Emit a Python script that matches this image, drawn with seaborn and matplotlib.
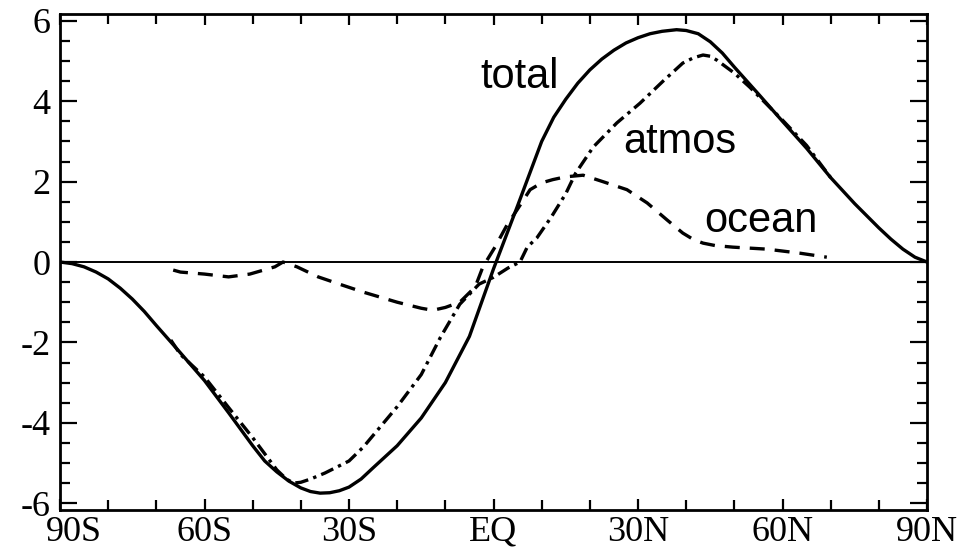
import matplotlib
matplotlib.use("Agg")
import matplotlib.pyplot as plt
import matplotlib.transforms as mtransforms
import seaborn as sns
import pandas as pd
from matplotlib.ticker import MultipleLocator, FixedLocator

# ---- data (latitude in degrees, transport in PW) ----
total_lat = [-90, -87.5, -85, -82.5, -80, -77.5, -75, -72.5, -70, -65, -60, -55, -50,
             -47.5, -45, -42.5, -40, -38, -36, -34, -32, -30, -27.5, -25, -20, -15,
             -10, -5, 0, 5, 10, 12.5, 15, 17.5, 20, 22.5, 25, 27.5, 30, 32.5, 35,
             38, 40, 42.5, 45, 47.5, 50, 55, 60, 65, 70, 75, 80, 82.5, 85, 87.5, 90]
total_val = [0.0, -0.04, -0.12, -0.25, -0.42, -0.65, -0.92, -1.23, -1.58, -2.26,
             -2.95, -3.75, -4.57, -4.95, -5.22, -5.45, -5.62, -5.71, -5.75, -5.74,
             -5.69, -5.6, -5.4, -5.12, -4.57, -3.88, -3.0, -1.85, -0.17, 1.4, 3.0,
             3.6, 4.05, 4.45, 4.78, 5.05, 5.27, 5.45, 5.58, 5.68, 5.74, 5.78, 5.76,
             5.68, 5.48, 5.2, 4.85, 4.18, 3.5, 2.83, 2.1, 1.45, 0.85, 0.57, 0.32,
             0.12, 0.0]

atmos_lat = [-67, -65, -60, -55, -50, -45, -43, -41.5, -40, -38, -35, -30, -27, -20,
             -15, -11, -7, -3, 0, 3, 5.5, 7, 9, 12, 15, 17, 20.7, 25.6, 30.4, 35.2,
             39.3, 41.5, 43.5, 45, 46.4, 50, 53.2, 60, 65, 70]
atmos_val = [-1.94, -2.3, -2.86, -3.62, -4.37, -5.17, -5.4, -5.5, -5.48, -5.4, -5.25,
             -4.95, -4.6, -3.6, -2.8, -1.87, -1.05, -0.55, -0.38, -0.15, 0.0, 0.37,
             0.6, 1.12, 1.7, 2.2, 2.86, 3.46, 3.95, 4.5, 4.95, 5.08, 5.15, 5.12,
             5.02, 4.7, 4.35, 3.53, 2.9, 2.1]

ocean_lat = [-66.5, -65, -60, -55, -50.6, -45.4, -43.7, -40.8, -36.4, -31.5, -27,
             -20, -15, -12.6, -10, -7, -3.8, -2.2, 0.3, 2.8, 4.9, 7.6, 10, 12.3, 15,
             18.6, 22.7, 27.7, 31.9, 36, 39.3, 41.5, 43.5, 46, 49.7, 56.8, 63.6, 69.2]
ocean_val = [-0.2, -0.25, -0.3, -0.37, -0.3, -0.12, 0.0, -0.12, -0.37, -0.57, -0.75,
             -1.0, -1.15, -1.2, -1.13, -1.0, -0.62, -0.12, 0.37, 0.92, 1.3, 1.8,
             1.97, 2.05, 2.12, 2.16, 2.0, 1.8, 1.47, 1.05, 0.72, 0.56, 0.47, 0.41,
             0.37, 0.32, 0.22, 0.12]

x_ticks = [-90, -60, -30, 0, 30, 60, 90]
x_ticklabels = ["90S", "60S", "30S", "EQ", "30N", "60N", "90N"]
y_ticks = [-6, -4, -2, 0, 2, 4, 6]
y_ticklabels = ["-6", "-4", "-2", "0", "2", "4", "6"]

series_labels = ["total", "atmos", "ocean"]

# ---- style ----
sns.set_style("ticks")
plt.rcParams["font.family"] = ["Liberation Serif", "DejaVu Serif"]
plt.rcParams["axes.unicode_minus"] = False
plt.rcParams["text.color"] = "black"

fig = plt.figure(figsize=(9.71, 5.5), dpi=100)
ax = fig.add_axes([0.0618, 0.0727, 0.8929, 0.9018])

df_total = pd.DataFrame({"lat": total_lat, "val": total_val})
df_atmos = pd.DataFrame({"lat": atmos_lat, "val": atmos_val})
df_ocean = pd.DataFrame({"lat": ocean_lat, "val": ocean_val})

ax.axhline(0, color="black", lw=1.4, zorder=1)

sns.lineplot(data=df_total, x="lat", y="val", ax=ax, color="black", lw=2.4,
             sort=False, estimator=None)
ax.lines[-1].set_solid_joinstyle("round")
sns.lineplot(data=df_atmos, x="lat", y="val", ax=ax, color="black", lw=2.4,
             sort=False, estimator=None)
ax.lines[-1].set_dashes([4.0, 1.6, 1.0, 1.6])
sns.lineplot(data=df_ocean, x="lat", y="val", ax=ax, color="black", lw=2.4,
             sort=False, estimator=None)
ax.lines[-1].set_dashes([4.5, 3.0])

ax.set_xlim(-90, 90)
ax.set_ylim(-6.17, 6.17)
ax.set_xlabel("")
ax.set_ylabel("")

ax.xaxis.set_major_locator(FixedLocator(x_ticks))
ax.set_xticklabels(x_ticklabels)
ax.xaxis.set_minor_locator(MultipleLocator(10))
ax.yaxis.set_major_locator(FixedLocator(y_ticks))
ax.set_yticklabels(y_ticklabels)
ax.yaxis.set_minor_locator(MultipleLocator(0.5))

ax.tick_params(axis="both", which="both", direction="in", top=True, right=True,
               color="black", width=1.6, labelsize=26, labelcolor="black")
ax.tick_params(axis="x", which="major", length=8, pad=4)
ax.tick_params(axis="x", which="minor", length=7)
ax.tick_params(axis="y", which="major", length=12, pad=7)
ax.tick_params(axis="y", which="minor", length=7)

# the first x label sits a little to the right of the corner, as in the reference
first = ax.get_xticklabels()[0]
first.set_transform(first.get_transform() +
                    mtransforms.ScaledTranslation(0.14, 0, fig.dpi_scale_trans))

for sp in ax.spines.values():
    sp.set_linewidth(2.0)
    sp.set_color("black")

ann_font = ["Liberation Sans", "DejaVu Sans"]
ax.text(-2.8, 4.33, series_labels[0], family=ann_font, fontsize=30,
        color="black", ha="left", va="baseline")
ax.text(26.9, 2.71, series_labels[1], family=ann_font, fontsize=30,
        color="black", ha="left", va="baseline")
ax.text(43.7, 0.75, series_labels[2], family=ann_font, fontsize=30,
        color="black", ha="left", va="baseline")

fig.savefig("out.png", dpi=100)
